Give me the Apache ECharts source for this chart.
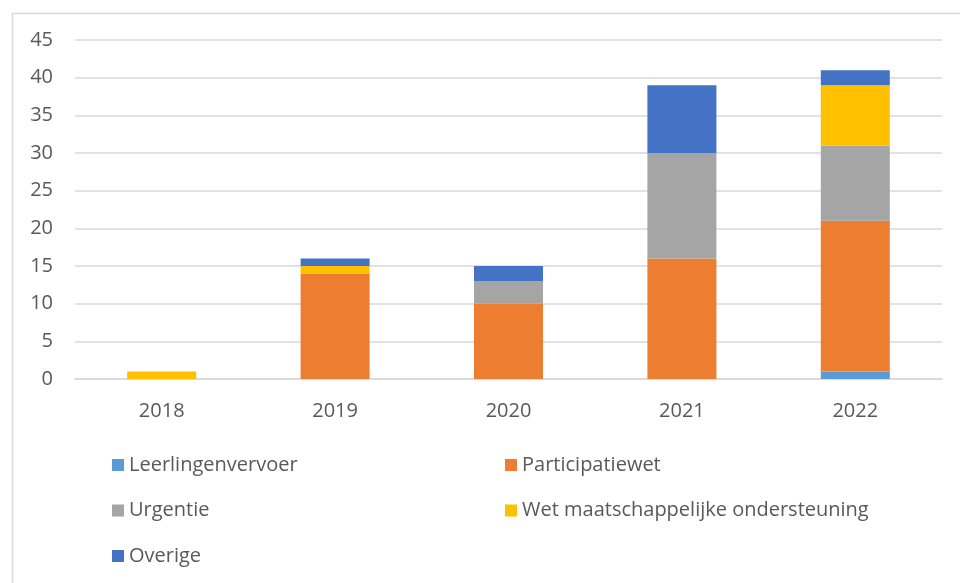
<!DOCTYPE html>
<html>
<head>
<meta charset="utf-8">
<script src="https://cdn.jsdelivr.net/npm/echarts@6/dist/echarts.min.js"></script>
<style>
html,body{margin:0;padding:0;background:#fff;}
#c{width:960px;height:583px;}
</style>
</head>
<body>
<div id="c"></div>
<script>
var years = ['2018', '2019', '2020', '2021', '2022'];
var leerlingenvervoer = [0, 0, 0, 0, 1];
var participatiewet = [0, 14, 10, 16, 20];
var urgentie = [0, 0, 3, 14, 10];
var wmo = [1, 1, 0, 0, 8];
var overige = [0, 1, 2, 9, 2];
var yTicks = [0, 5, 10, 15, 20, 25, 30, 35, 40, 45];

var FONT = '"Open Sans", "Noto Sans", sans-serif';
var chart = echarts.init(document.getElementById('c'));

function mk(name, data, color) {
  return {
    name: name, type: 'bar', stack: 'total', data: data,
    barWidth: 69,
    itemStyle: { color: color },
    emphasis: { disabled: true }
  };
}

var legendText = { color: '#595959', fontSize: 20, fontFamily: FONT };

chart.setOption({
  animation: false,
  graphic: [{
    type: 'rect', left: 10, top: 11,
    shape: { width: 980, height: 600 },
    style: { fill: 'none', stroke: '#d9d9d9', lineWidth: 1.5 },
    silent: true, z: -1
  }],
  grid: { left: 75, right: 18, top: 40, bottom: 204 },
  xAxis: {
    type: 'category', data: years,
    axisLine: { lineStyle: { color: '#d9d9d9', width: 1.5 } },
    axisTick: { show: false },
    axisLabel: { color: '#595959', fontSize: 20, fontFamily: FONT, margin: 22 }
  },
  yAxis: {
    type: 'value', min: yTicks[0], max: yTicks[yTicks.length - 1], interval: 5,
    axisLine: { show: false }, axisTick: { show: false },
    splitLine: { lineStyle: { color: '#d9d9d9', width: 1.5 } },
    axisLabel: { color: '#595959', fontSize: 20, fontFamily: FONT, margin: 22 }
  },
  legend: [{
    data: ['Leerlingenvervoer', 'Urgentie', 'Overige'],
    orient: 'vertical', left: 107, top: 450, itemGap: 25.5,
    itemWidth: 12, itemHeight: 12, icon: 'rect',
    textStyle: legendText, selectedMode: false
  }, {
    data: ['Participatiewet', 'Wet maatschappelijke ondersteuning'],
    orient: 'vertical', left: 500, top: 450, itemGap: 25.5,
    itemWidth: 12, itemHeight: 12, icon: 'rect',
    textStyle: legendText, selectedMode: false
  }],
  series: [
    mk('Leerlingenvervoer', leerlingenvervoer, '#5B9BD5'),
    mk('Participatiewet', participatiewet, '#ED7D31'),
    mk('Urgentie', urgentie, '#A5A5A5'),
    mk('Wet maatschappelijke ondersteuning', wmo, '#FFC000'),
    mk('Overige', overige, '#4472C4')
  ]
});
</script>
</body>
</html>
